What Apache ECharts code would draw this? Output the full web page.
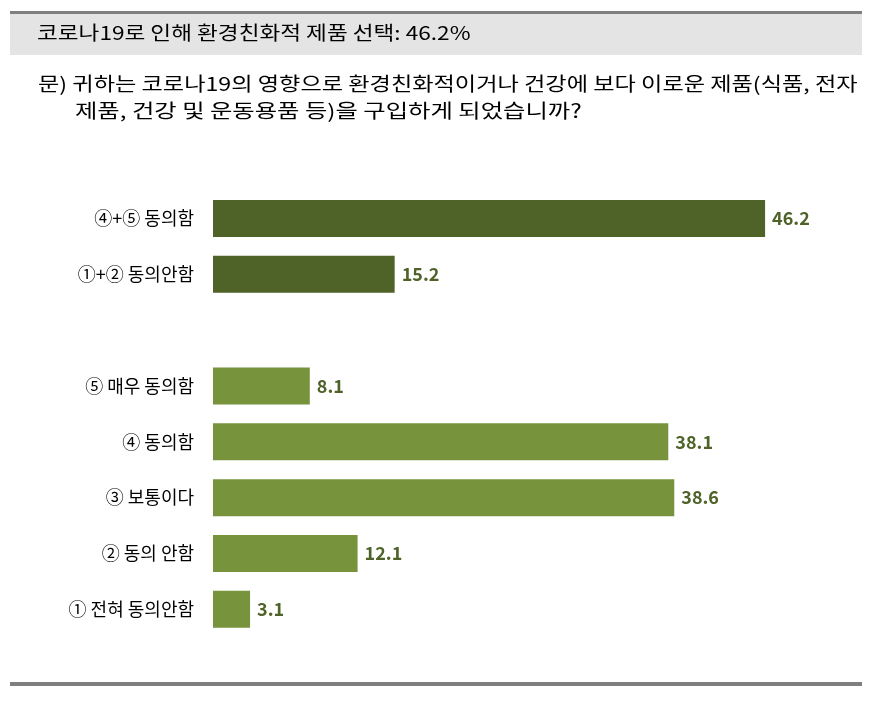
<!DOCTYPE html>
<html><head><meta charset="utf-8">
<script src="https://cdn.jsdelivr.net/npm/echarts@6/dist/echarts.min.js"></script>
<style>html,body{margin:0;padding:0;background:#fff}#c{width:880px;height:702px}</style>
</head><body><div id="c"></div>
<script>
const categories = ['④+⑤ 동의함', '①+② 동의안함', '', '⑤ 매우 동의함', '④ 동의함', '③ 보통이다', '② 동의 안함', '① 전혀 동의안함'];
const values = [46.2, 15.2, null, 8.1, 38.1, 38.6, 12.1, 3.1];
const groupType = ['sum', 'sum', 'gap', 'item', 'item', 'item', 'item', 'item'];
const headerText = '코로나19로 인해 환경친화적 제품 선택: 46.2%';
const questionLine1 = '문) 귀하는 코로나19의 영향으로 환경친화적이거나 건강에 보다 이로운 제품(식품, 전자';
const questionLine2 = '제품, 건강 및 운동용품 등)을 구입하게 되었습니까?';

const colors = { sum: '#4f6228', item: '#77933c', gap: '#ffffff' };
const font = '"Noto Sans CJK KR", "Malgun Gothic", sans-serif';

const chart = echarts.init(document.getElementById('c'));
chart.setOption({
  animation: false,
  backgroundColor: '#ffffff',
  grid: { left: 213, top: 190.6, height: 446.6, width: 597.5, containLabel: false },
  xAxis: { type: 'value', min: 0, max: 50, show: false },
  yAxis: {
    type: 'category', inverse: true, data: categories,
    axisLine: { show: false }, axisTick: { show: false },
    axisLabel: { color: '#000', fontSize: 18, fontFamily: font, margin: 19 }
  },
  series: [{
    type: 'bar', barWidth: 37,
    data: values.map((v, i) => ({ value: v, itemStyle: { color: colors[groupType[i]] } })),
    label: {
      show: true, position: 'right', distance: 7,
      color: '#4f6228', fontWeight: 'bold', fontSize: 18, fontFamily: font,
      formatter: p => p.value == null ? '' : p.value.toFixed(1)
    }
  }],
  graphic: [
    { type: 'rect', shape: { x: 10, y: 11, width: 852, height: 3 }, style: { fill: '#7f7f7f' } },
    { type: 'rect', shape: { x: 10, y: 14, width: 852, height: 41 }, style: { fill: '#e4e4e4' } },
    { type: 'text', x: 37, y: 33, scaleX: 1.19, style: { text: headerText, fill: '#000', font: '19px ' + font, textVerticalAlign: 'middle' } },
    { type: 'text', x: 38, y: 84, scaleX: 1.22, style: { text: questionLine1, fill: '#000', font: '19px ' + font, textVerticalAlign: 'middle' } },
    { type: 'text', x: 75, y: 111, scaleX: 1.28, style: { text: questionLine2, fill: '#000', font: '19px ' + font, textVerticalAlign: 'middle' } },
    { type: 'rect', shape: { x: 10, y: 682, width: 852, height: 4 }, style: { fill: '#7f7f7f' } }
  ]
});
</script></body></html>
